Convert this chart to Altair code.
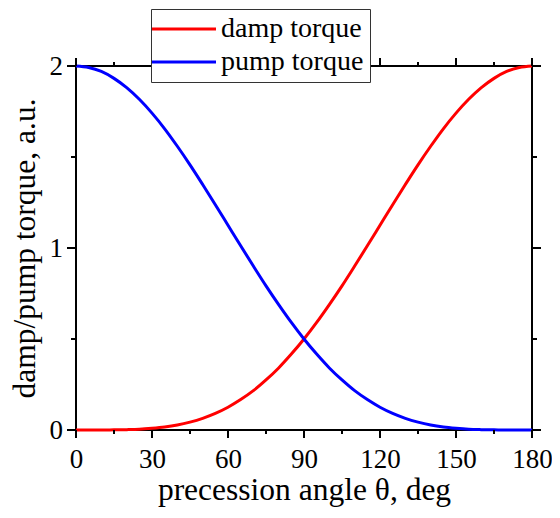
import altair as alt
import pandas as pd

theta = [0, 5, 10, 15, 20, 25, 30, 35, 40, 45, 50, 55, 60, 65, 70, 75, 80, 85, 90,
         95, 100, 105, 110, 115, 120, 125, 130, 135, 140, 145, 150, 155, 160, 165, 170, 175, 180]
damp = [0.000, 0.000, 0.000, 0.001, 0.002, 0.004, 0.009, 0.016, 0.027, 0.043, 0.064, 0.091,
        0.125, 0.167, 0.216, 0.275, 0.341, 0.417, 0.500, 0.591, 0.689, 0.792, 0.901, 1.012,
        1.125, 1.238, 1.349, 1.457, 1.559, 1.655, 1.741, 1.817, 1.881, 1.932, 1.970, 1.992, 2.000]
pump = [2.000, 1.992, 1.970, 1.932, 1.881, 1.817, 1.741, 1.655, 1.559, 1.457, 1.349, 1.238,
        1.125, 1.012, 0.901, 0.792, 0.689, 0.591, 0.500, 0.417, 0.341, 0.275, 0.216, 0.167,
        0.125, 0.091, 0.064, 0.043, 0.027, 0.016, 0.009, 0.004, 0.002, 0.001, 0.000, 0.000, 0.000]
series_names = ["damp torque", "pump torque"]
series_colors = ["#ff0000", "#0000ff"]
x_major = [0, 30, 60, 90, 120, 150, 180]
x_minor = [15, 45, 75, 105, 135, 165]
y_major = [0, 1, 2]
y_labels = ["0", "1", "2"]
y_minor = [0.5, 1.5]

W, H = 456, 364
FONT = "Liberation Serif"

df = pd.DataFrame({
    "theta": theta * 2,
    "value": damp + pump,
    "series": [series_names[0]] * len(theta) + [series_names[1]] * len(theta),
})
xmaj = pd.DataFrame({"v": x_major})
xmin = pd.DataFrame({"v": x_minor})
ymaj = pd.DataFrame({"v": y_major, "lab": y_labels})
ymin = pd.DataFrame({"v": y_minor})

xs = alt.Scale(domain=[0, 180], nice=False, zero=False)
ys = alt.Scale(domain=[0, 2], nice=False, zero=False)

main = alt.Chart(df).mark_line(strokeWidth=3, interpolate="monotone").encode(
    x=alt.X("theta:Q", scale=xs,
            axis=alt.Axis(orient="bottom", values=x_major, format="d", ticks=False,
                          domain=False, grid=False, tickSize=0, labelPadding=16,
                          labelFlush=False, labelOverlap=False,
                          labelFont=FONT, labelFontSize=27, labelColor="black",
                          title="precession angle θ, deg", titleFont=FONT,
                          titleFontSize=31.5, titleFontWeight="normal", titleColor="black",
                          titlePadding=2)),
    y=alt.Y("value:Q", scale=ys,
            axis=alt.Axis(orient="left", values=y_major, ticks=False, domain=False,
                          grid=False, tickSize=0, labels=False,
                          title="damp/pump torque, a.u.", titleFont=FONT,
                          titleFontSize=31.5, titleFontWeight="normal", titleColor="black",
                          titlePadding=35)),
    color=alt.Color("series:N",
                    scale=alt.Scale(domain=series_names, range=series_colors),
                    legend=alt.Legend(orient="none", legendX=75, legendY=-57, title=None,
                                      symbolType="M-1.9,0H4.5", symbolSize=400,
                                      symbolStrokeWidth=3, symbolFillColor="transparent",
                                      labelFont=FONT, labelFontSize=28, labelColor="black",
                                      strokeColor="#333333", fillColor="white",
                                      padding=6, rowPadding=5, labelOffset=36)),
)

ylab = alt.Chart(ymaj).mark_text(font=FONT, fontSize=27, color="black", align="right",
                                 baseline="middle", dx=-13, dy=1).encode(
    y=alt.Y("v:Q", scale=ys, axis=None), x=alt.value(0), text="lab:N")


def xticks(data, y0, y1):
    return alt.Chart(data).mark_rule(color="black", strokeWidth=2).encode(
        x=alt.X("v:Q", scale=xs, axis=None), y=alt.value(y0), y2=alt.value(y1))


def yticks(data, x0, x1):
    return alt.Chart(data).mark_rule(color="black", strokeWidth=2).encode(
        y=alt.Y("v:Q", scale=ys, axis=None), x=alt.value(x0), x2=alt.value(x1))


ticks = [
    xticks(xmaj, H, H + 8), xticks(xmaj, 0, -8),
    xticks(xmin, H, H + 4), xticks(xmin, 0, -4),
    yticks(ymaj, 0, -9), yticks(ymaj, W, W + 9),
    yticks(ymin, 0, -5), yticks(ymin, W, W + 5),
]

chart = alt.layer(main, *ticks, ylab).resolve_axis(
    x="independent", y="independent"
).properties(
    width=W, height=H,
    autosize=alt.AutoSizeParams(type="none"),
    padding={"left": 68, "top": 58, "right": 20, "bottom": 80},
).configure_view(stroke="black", strokeWidth=2)

chart.save("out.html", embed_options={"renderer": "svg", "actions": False})
